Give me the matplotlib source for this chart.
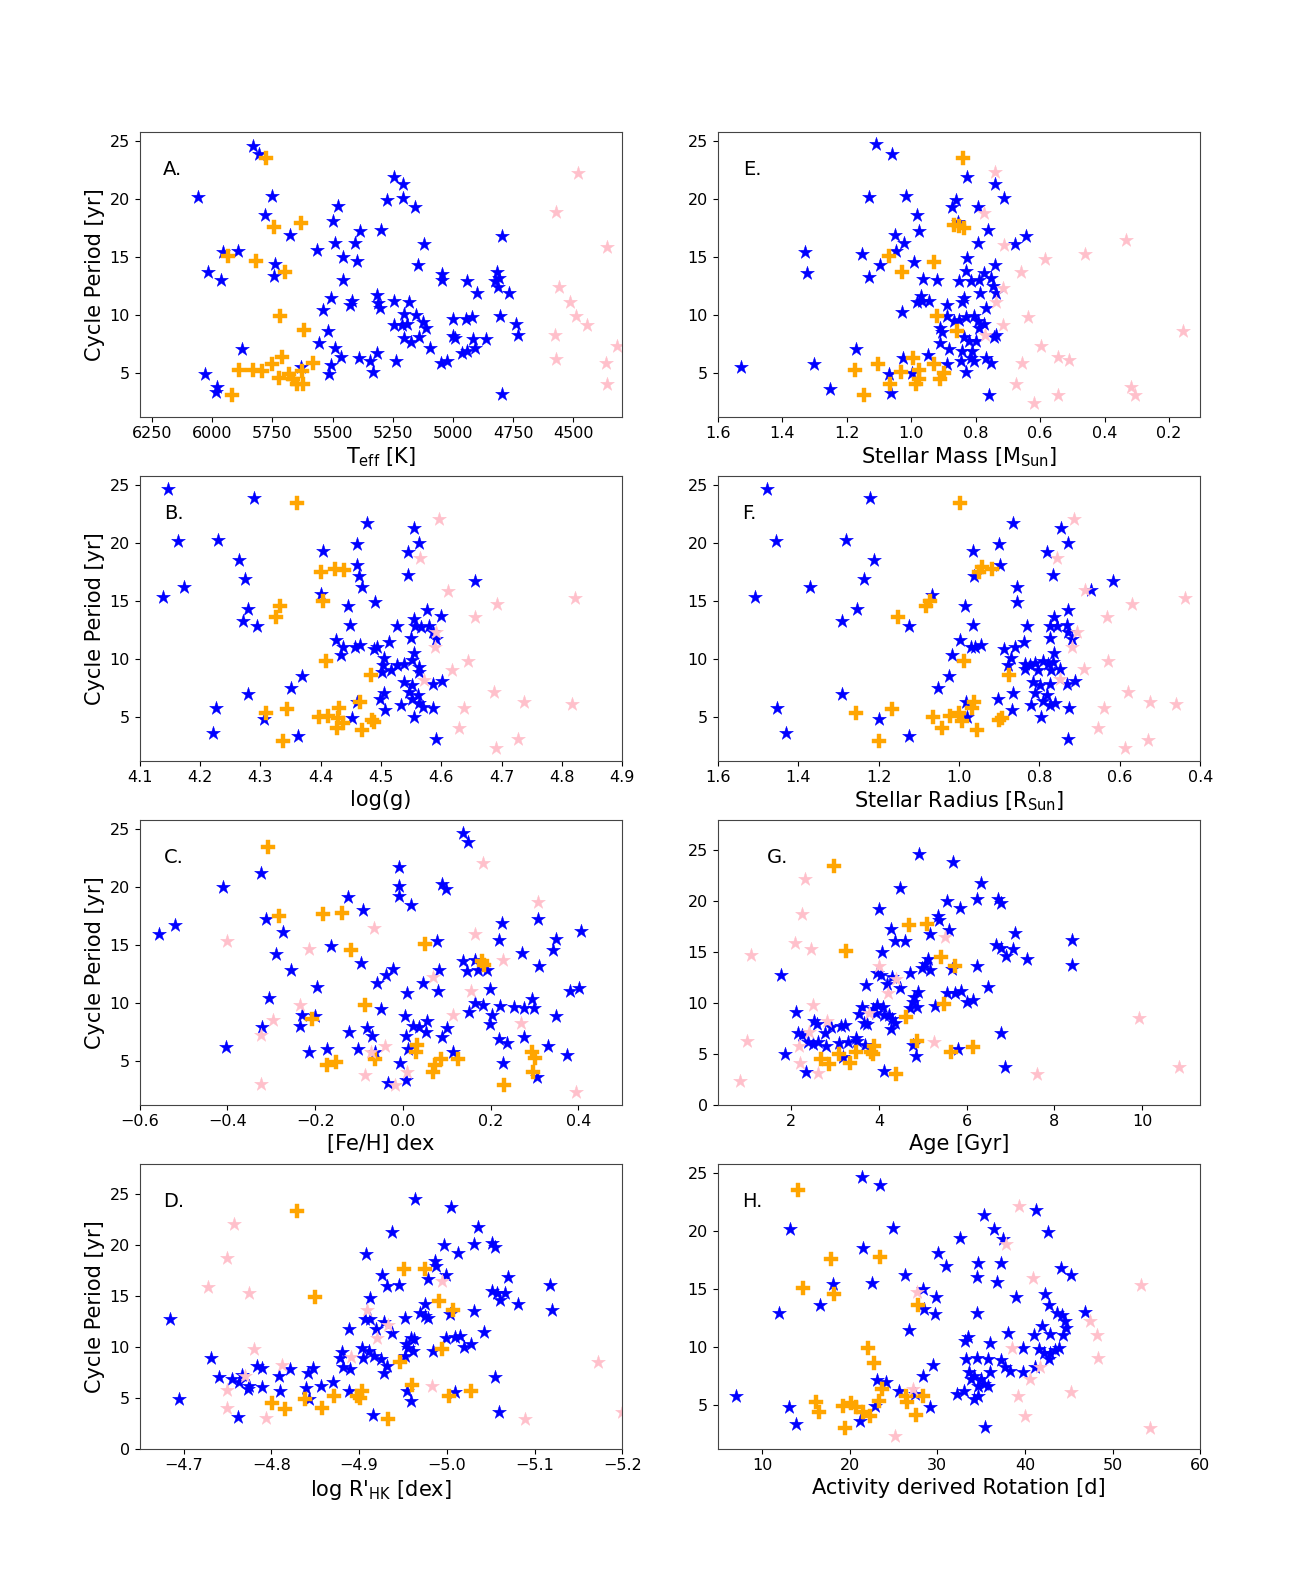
import matplotlib
matplotlib.use("Agg")
import matplotlib.pyplot as plt
import numpy as np

# ---------------- data (x, cycle period [yr]) ----------------
# Panel A: Teff [K]
A_BLUE = [(5829, 24.6), (5805, 23.9), (6060, 20.2), (5754, 20.3), (5780, 18.6), (5677, 16.9), (5954, 15.4), (5895, 15.5), (6018, 13.7), (5962, 13.0),
          (5740, 14.4), (5744, 13.4), (5878, 7.1), (6029, 4.9), (5979, 3.8), (5983, 3.4), (5632, 5.5), (5565, 15.6), (5541, 10.4), (5506, 11.5),
          (5499, 18.1), (5479, 19.4), (5492, 16.2), (5456, 15.0), (5459, 13.0), (5521, 8.6), (5555, 7.6), (5492, 7.2), (5466, 6.4), (5506, 5.7),
          (5515, 4.9), (5409, 16.2), (5400, 14.7), (5386, 17.2), (5421, 11.2), (5426, 10.9), (5389, 6.3), (5344, 6.0), (5333, 5.1), (5316, 6.7),
          (5299, 17.3), (5274, 19.9), (5243, 21.9), (5206, 21.3), (5206, 20.1), (5159, 19.3), (5122, 16.1), (5147, 14.3), (5316, 11.7), (5313, 11.0),
          (5302, 10.6), (5243, 11.2), (5181, 11.1), (5246, 9.1), (5211, 9.1), (5204, 10.1), (5190, 9.2), (5155, 10.0), (5126, 9.4), (5112, 8.9),
          (5204, 8.0), (5176, 7.7), (5140, 8.1), (5094, 7.2), (5235, 6.0), (5046, 13.5), (5046, 13.0), (5000, 9.7), (4999, 8.2), (4990, 8.0),
          (5049, 5.9), (5024, 6.0), (4962, 6.7), (4940, 6.9), (4944, 9.7), (4920, 9.8), (4940, 12.9), (4902, 11.9), (4916, 7.9), (4909, 7.2),
          (4862, 7.9), (4818, 13.7), (4824, 12.9), (4810, 13.2), (4813, 12.4), (4794, 16.8), (4768, 11.9), (4806, 9.9), (4737, 9.2), (4729, 8.3),
          (4796, 3.2)]
A_ORANGE = [(5777, 23.5), (5742, 17.6), (5633, 17.9), (5934, 15.1), (5817, 14.7), (5698, 13.7), (5720, 9.9), (5621, 8.7), (5580, 5.9), (5709, 6.4),
            (5754, 5.8), (5793, 5.2), (5833, 5.3), (5888, 5.3), (5723, 4.6), (5681, 4.9), (5664, 4.5), (5650, 4.1), (5625, 4.1), (5628, 5.2),
            (5920, 3.1)]
A_PINK = [(4480, 22.2), (4572, 18.9), (4358, 15.9), (4558, 12.4), (4515, 11.1), (4487, 9.9), (4441, 9.1), (4574, 8.3), (4572, 6.2), (4316, 7.3),
          (4365, 5.9), (4361, 4.1)]

# Panel E: stellar mass [Msun]
E_BLUE = [(1.109, 24.7), (1.059, 23.9), (1.132, 20.2), (1.016, 20.3), (0.828, 21.9), (0.862, 19.9), (0.872, 19.3), (0.794, 19.3), (0.983, 18.6), (0.977, 17.2),
          (0.855, 18.0), (0.739, 21.3), (0.712, 20.1), (0.760, 17.3), (0.794, 16.2), (0.678, 16.1), (0.644, 16.8), (1.050, 16.9), (1.022, 16.2), (1.046, 15.5),
          (1.151, 15.3), (1.096, 14.3), (1.329, 15.4), (1.324, 13.6), (1.130, 13.3), (0.990, 14.6), (0.962, 13.1), (0.920, 13.0), (0.828, 14.9), (0.830, 13.8),
          (0.851, 12.9), (0.815, 12.9), (0.788, 13.0), (0.773, 13.6), (0.752, 13.2), (0.746, 12.5), (0.741, 14.3), (0.736, 11.9), (0.785, 11.9), (0.837, 11.5),
          (0.843, 11.1), (0.970, 11.6), (0.966, 11.2), (0.983, 11.1), (0.946, 11.2), (1.027, 10.3), (0.888, 10.9), (0.767, 10.6), (0.888, 9.9), (0.867, 9.5),
          (0.851, 9.6), (0.830, 9.8), (0.804, 9.9), (0.794, 9.5), (0.773, 9.2), (0.788, 8.9), (0.909, 8.9), (0.904, 8.5), (0.909, 7.6), (0.883, 7.1),
          (0.837, 8.1), (0.820, 7.8), (0.841, 6.9), (0.799, 7.8), (0.810, 6.9), (0.815, 6.3), (0.804, 6.0), (0.846, 6.0), (0.830, 5.1), (0.743, 8.1),
          (0.736, 8.3), (0.767, 6.3), (0.752, 5.9), (0.888, 5.8), (0.948, 6.6), (1.025, 6.3), (1.070, 4.9), (1.061, 3.3), (0.998, 5.0), (1.172, 7.1),
          (1.300, 5.8), (1.527, 5.5), (1.252, 3.6), (0.757, 3.1)]
E_ORANGE = [(0.838, 23.5), (0.867, 17.8), (0.851, 17.7), (0.837, 17.5), (1.070, 15.1), (0.928, 14.6), (1.029, 13.7), (0.920, 9.9), (0.859, 8.6), (0.993, 6.3),
            (1.174, 5.3), (1.103, 5.8), (1.030, 5.1), (0.977, 5.3), (0.928, 5.8), (0.899, 5.0), (0.977, 4.5), (0.910, 4.5), (1.065, 4.1), (0.986, 4.1),
            (1.147, 3.1)]
E_PINK = [(0.739, 22.3), (0.775, 18.8), (0.712, 16.0), (0.332, 16.5), (0.461, 15.3), (0.584, 14.8), (0.660, 13.7), (0.715, 12.3), (0.736, 11.1), (0.638, 9.8),
          (0.716, 9.1), (0.770, 8.3), (0.156, 8.6), (0.596, 7.3), (0.544, 6.4), (0.510, 6.1), (0.657, 5.9), (0.675, 4.1), (0.319, 3.8), (0.306, 3.1),
          (0.545, 3.1), (0.619, 2.4)]

# Panel B: log(g)
B_BLUE = [(4.147, 24.66), (4.289, 23.89), (4.163, 20.17), (4.229, 20.26), (4.174, 16.17), (4.138, 15.31), (4.264, 18.54), (4.275, 16.89), (4.280, 14.31), (4.271, 13.26),
          (4.295, 12.89), (4.280, 6.97), (4.226, 5.74), (4.222, 3.66), (4.306, 4.83), (4.362, 3.4), (4.351, 7.51), (4.369, 8.54), (4.477, 21.74), (4.404, 19.31),
          (4.461, 19.89), (4.460, 18.11), (4.463, 17.17), (4.468, 16.17), (4.401, 15.6), (4.446, 14.6), (4.449, 12.97), (4.426, 11.6), (4.437, 11.03), (4.433, 10.31),
          (4.457, 11.03), (4.465, 11.17), (4.490, 14.89), (4.555, 21.31), (4.563, 20.03), (4.544, 19.26), (4.545, 17.23), (4.656, 16.74), (4.488, 10.89), (4.494, 11.03),
          (4.513, 11.46), (4.527, 12.89), (4.576, 14.26), (4.555, 13.46), (4.556, 12.89), (4.566, 12.74), (4.580, 12.89), (4.599, 13.69), (4.586, 12.31), (4.550, 11.83),
          (4.592, 11.74), (4.554, 10.54), (4.505, 10.09), (4.504, 9.51), (4.502, 8.89), (4.516, 9.03), (4.527, 9.46), (4.538, 9.6), (4.552, 9.89), (4.563, 9.31),
          (4.563, 8.89), (4.538, 8.03), (4.552, 7.74), (4.586, 7.89), (4.601, 8.11), (4.505, 7.09), (4.498, 6.6), (4.507, 5.6), (4.533, 6.03), (4.547, 7.17),
          (4.552, 6.6), (4.561, 6.89), (4.563, 6.17), (4.570, 5.89), (4.587, 5.8), (4.555, 5.03), (4.592, 3.11), (4.452, 4.89), (4.460, 6.31)]
B_ORANGE = [(4.360, 23.46), (4.401, 17.51), (4.423, 17.74), (4.439, 17.66), (4.332, 14.6), (4.326, 13.6), (4.404, 15.03), (4.408, 9.83), (4.483, 8.6), (4.466, 6.31),
            (4.309, 5.31), (4.345, 5.69), (4.397, 5.03), (4.412, 5.11), (4.431, 5.8), (4.429, 4.89), (4.437, 4.46), (4.427, 4.03), (4.468, 3.89), (4.485, 4.74),
            (4.488, 4.54), (4.337, 2.97)]
B_PINK = [(4.596, 22.11), (4.565, 18.74), (4.611, 15.89), (4.692, 14.74), (4.655, 13.6), (4.821, 15.29), (4.592, 12.31), (4.589, 11.03), (4.645, 9.83), (4.617, 9.09),
          (4.572, 8.17), (4.687, 7.17), (4.737, 6.31), (4.816, 6.09), (4.638, 5.8), (4.629, 4.09), (4.727, 3.09), (4.690, 2.31)]

# Panel F: stellar radius [Rsun]
F_BLUE = [(1.477, 24.66), (1.222, 23.89), (1.454, 20.17), (1.280, 20.26), (1.211, 18.54), (1.236, 16.89), (1.370, 16.17), (1.508, 15.31), (1.253, 14.31), (1.291, 13.26),
          (1.125, 12.89), (1.066, 15.51), (0.866, 21.74), (0.900, 19.89), (0.966, 19.31), (0.897, 18.09), (0.963, 17.17), (0.856, 16.17), (0.856, 14.94), (0.984, 14.6),
          (0.965, 12.97), (0.997, 11.6), (0.971, 11.03), (0.959, 11.03), (0.946, 11.17), (1.018, 10.31), (1.024, 8.54), (1.051, 7.51), (1.291, 6.97), (1.452, 5.74),
          (1.431, 3.66), (1.198, 4.83), (1.125, 3.37), (0.982, 6.31), (0.980, 5.03), (0.746, 21.31), (0.728, 20.03), (0.782, 19.26), (0.766, 17.23), (0.618, 16.74),
          (0.671, 15.97), (0.830, 12.89), (0.729, 14.26), (0.763, 13.6), (0.774, 12.89), (0.757, 12.89), (0.732, 12.94), (0.728, 12.31), (0.774, 11.8), (0.719, 11.74),
          (0.839, 11.46), (0.860, 11.03), (0.887, 10.89), (0.871, 10.09), (0.763, 10.54), (0.879, 9.46), (0.837, 9.6), (0.824, 9.51), (0.812, 9.69), (0.791, 9.8),
          (0.778, 9.6), (0.766, 9.74), (0.837, 9.17), (0.803, 9.03), (0.770, 9.03), (0.749, 9.11), (0.817, 8.03), (0.799, 7.8), (0.774, 7.89), (0.732, 7.89),
          (0.711, 8.09), (0.812, 7.09), (0.782, 6.94), (0.790, 6.37), (0.774, 6.06), (0.761, 6.2), (0.866, 7.11), (0.904, 6.6), (0.820, 6.03), (0.868, 5.6),
          (0.795, 4.97), (0.726, 5.74), (0.728, 3.11)]
F_ORANGE = [(0.997, 23.46), (0.950, 17.51), (0.944, 17.89), (0.917, 17.74), (1.072, 15.03), (1.083, 14.6), (1.152, 13.6), (0.988, 9.83), (0.875, 8.6), (0.963, 6.26),
            (0.967, 5.8), (1.257, 5.31), (1.167, 5.66), (1.064, 5.03), (1.022, 5.11), (1.001, 5.31), (0.992, 4.66), (0.900, 4.74), (0.892, 4.89), (1.043, 4.03),
            (0.956, 3.89), (1.198, 2.97)]
F_PINK = [(0.713, 22.11), (0.757, 18.74), (0.687, 15.94), (0.570, 14.74), (0.633, 13.6), (0.438, 15.26), (0.707, 12.31), (0.718, 11.03), (0.629, 9.83), (0.690, 9.11),
          (0.749, 8.26), (0.581, 7.17), (0.524, 6.26), (0.461, 6.11), (0.640, 5.8), (0.655, 4.09), (0.530, 3.03), (0.587, 2.31)]

# Panel C: [Fe/H]
C_BLUE = [(0.137, 24.63), (0.149, 23.86), (-0.323, 21.24), (-0.410, 19.96), (-0.556, 15.94), (-0.520, 16.74), (-0.312, 17.22), (-0.273, 16.08), (-0.290, 14.26), (-0.254, 12.89),
          (-0.306, 10.41), (-0.321, 7.91), (-0.404, 6.2), (-0.196, 11.38), (-0.229, 8.96), (-0.235, 8.05), (-0.200, 8.85), (-0.213, 5.77), (-0.173, 6.05), (-0.125, 19.16),
          (-0.092, 18.02), (-0.163, 14.89), (-0.096, 13.46), (-0.123, 7.54), (-0.102, 6.05), (-0.082, 7.82), (-0.071, 7.14), (-0.063, 5.77), (-0.050, 9.53), (-0.059, 11.75),
          (-0.038, 12.38), (-0.022, 12.95), (-0.009, 21.72), (-0.009, 20.07), (-0.009, 19.22), (0.018, 18.45), (-0.006, 4.86), (-0.035, 3.15), (0.006, 3.35), (0.004, 8.9),
          (0.006, 7.14), (0.010, 10.84), (0.012, 6.05), (0.022, 8.05), (0.037, 7.91), (0.053, 7.48), (0.055, 8.48), (0.045, 11.75), (0.077, 15.31), (0.080, 11.04),
          (0.083, 12.89), (0.089, 20.24), (0.099, 19.87), (0.089, 7.11), (0.101, 7.82), (0.114, 5.77), (0.137, 13.6), (0.145, 12.75), (0.164, 13.75), (0.170, 12.83),
          (0.191, 12.89), (0.150, 9.27), (0.164, 10.04), (0.183, 9.81), (0.199, 11.18), (0.203, 8.96), (0.199, 8.19), (0.220, 15.4), (0.226, 16.88), (0.222, 9.76),
          (0.218, 6.91), (0.237, 6.57), (0.228, 4.86), (0.271, 14.32), (0.253, 9.67), (0.276, 9.61), (0.276, 7.05), (0.294, 10.33), (0.298, 9.61), (0.307, 17.22),
          (0.311, 13.23), (0.305, 3.63), (0.330, 6.28), (0.341, 14.54), (0.348, 15.51), (0.349, 8.9), (0.375, 5.48), (0.380, 11.04), (0.402, 11.32), (0.407, 16.17)]
C_ORANGE = [(-0.308, 23.43), (-0.283, 17.51), (-0.182, 17.68), (-0.139, 17.79), (-0.119, 14.54), (0.051, 15.09), (0.180, 13.6), (0.184, 13.32), (-0.086, 9.84), (-0.207, 8.62),
            (0.031, 6.4), (0.029, 5.77), (-0.063, 5.2), (-0.152, 4.91), (-0.173, 4.63), (0.087, 5.14), (0.072, 4.69), (0.068, 4.06), (0.126, 5.14), (0.295, 5.77),
            (0.302, 5.26), (0.297, 4.06), (0.230, 2.98)]
C_PINK = [(0.183, 22.09), (0.308, 18.73), (-0.067, 16.51), (-0.400, 15.31), (-0.213, 14.66), (0.164, 15.94), (0.227, 13.69), (0.068, 12.27), (0.155, 11.04), (-0.234, 9.81),
          (0.114, 8.96), (-0.296, 8.53), (-0.323, 7.25), (0.268, 8.25), (-0.041, 6.34), (-0.072, 5.77), (-0.086, 3.83), (0.010, 4.06), (-0.017, 2.98), (-0.323, 3.06),
          (0.395, 2.35)]

# Panel G: age [Gyr]
G_BLUE = [(4.919, 24.64), (5.691, 23.89), (4.471, 21.28), (6.324, 21.77), (4.008, 19.26), (5.552, 20.01), (5.846, 19.32), (6.247, 20.17), (6.710, 20.24), (6.788, 19.84),
          (5.336, 18.51), (5.359, 18.11), (4.278, 17.23), (5.591, 17.2), (5.166, 16.81), (4.355, 16.06), (4.587, 16.12), (7.097, 16.91), (8.394, 16.22), (6.672, 15.67),
          (6.788, 15.4), (7.058, 15.34), (6.903, 14.62), (7.367, 14.36), (8.409, 13.71), (6.232, 13.64), (4.069, 15.01), (5.112, 14.36), (5.050, 13.87), (4.973, 13.45),
          (5.166, 13.22), (5.668, 13.32), (4.703, 12.89), (3.954, 12.89), (4.046, 12.73), (4.301, 12.57), (4.178, 11.81), (4.471, 11.42), (3.714, 11.75), (1.768, 12.73),
          (6.479, 11.59), (5.552, 11.0), (5.861, 11.16), (5.745, 10.93), (6.154, 10.28), (5.999, 10.05), (5.282, 9.69), (4.896, 11.1), (4.796, 10.61), (4.780, 10.12),
          (4.703, 9.47), (4.857, 9.56), (3.946, 9.79), (4.085, 9.63), (3.869, 9.4), (3.622, 9.63), (3.544, 8.88), (3.931, 8.98), (4.124, 8.81), (4.239, 8.81),
          (4.301, 8.42), (4.355, 8.0), (4.278, 7.44), (3.660, 8.0), (3.737, 7.9), (2.100, 9.07), (2.525, 8.22), (2.579, 7.9), (2.911, 7.67), (2.757, 7.02),
          (2.154, 7.02), (2.232, 6.85), (3.143, 7.77), (3.220, 7.83), (2.386, 6.2), (2.502, 5.94), (2.602, 6.14), (2.788, 5.81), (3.097, 6.04), (3.297, 6.2),
          (3.467, 6.59), (3.506, 6.27), (3.683, 5.87), (1.846, 4.96), (2.324, 3.2), (3.181, 4.73), (4.108, 3.36), (4.780, 5.87), (4.834, 4.83), (5.800, 5.48),
          (6.788, 7.02), (6.865, 3.66)]
G_ORANGE = [(2.981, 23.43), (3.236, 15.08), (4.680, 17.69), (5.104, 17.79), (5.421, 14.52), (5.745, 13.61), (5.475, 9.89), (4.610, 8.58), (4.857, 6.3), (3.892, 5.81),
            (3.815, 5.22), (3.467, 5.22), (3.081, 4.96), (2.680, 4.5), (2.849, 3.98), (3.328, 4.08), (3.853, 4.96), (5.653, 5.22), (6.154, 5.71), (4.394, 3.0)]
G_PINK = [(2.309, 22.19), (2.247, 18.77), (2.077, 15.93), (2.448, 15.27), (1.073, 14.69), (4.008, 13.61), (4.394, 12.34), (4.201, 11.0), (2.502, 9.79), (3.776, 9.04),
          (9.938, 8.55), (2.811, 8.22), (2.409, 7.18), (0.996, 6.3), (5.259, 6.2), (2.178, 5.81), (2.193, 4.08), (2.618, 3.1), (5.514, 16.48), (7.598, 3.0),
          (10.84, 3.75), (0.826, 2.35)]

# Panel D: log R'HK [dex]
D_BLUE = [(-4.684, 12.78), (-4.695, 4.89), (-4.731, 8.9), (-4.740, 7.01), (-4.755, 6.84), (-4.767, 7.24), (-4.763, 6.52), (-4.774, 6.13), (-4.773, 5.87), (-4.762, 3.1),
          (-4.784, 8.08), (-4.789, 7.89), (-4.789, 6.03), (-4.809, 7.17), (-4.810, 5.7), (-4.821, 7.82), (-4.842, 7.43), (-4.848, 7.89), (-4.840, 5.93), (-4.843, 4.89),
          (-4.857, 6.19), (-4.870, 6.58), (-4.880, 9.52), (-4.878, 8.96), (-4.882, 7.99), (-4.890, 7.82), (-4.888, 5.64), (-4.889, 11.8), (-4.903, 9.94), (-4.911, 9.62),
          (-4.905, 8.96), (-4.917, 9.13), (-4.925, 8.8), (-4.932, 8.15), (-4.928, 7.4), (-4.907, 12.78), (-4.912, 12.78), (-4.919, 11.8), (-4.928, 12.45), (-4.937, 11.34),
          (-4.913, 14.83), (-4.908, 19.17), (-4.926, 17.11), (-4.932, 15.97), (-4.946, 16.13), (-4.938, 21.25), (-4.964, 24.54), (-4.952, 12.88), (-4.959, 10.92), (-4.963, 10.76),
          (-4.954, 10.27), (-4.956, 9.94), (-4.961, 9.62), (-4.952, 9.13), (-4.955, 5.7), (-4.959, 4.73), (-4.975, 14.18), (-4.969, 13.36), (-4.975, 13.04), (-4.979, 12.87),
          (-4.978, 16.69), (-4.986, 18.42), (-4.988, 17.93), (-4.999, 17.11), (-4.984, 9.62), (-4.997, 19.98), (-5.005, 23.79), (-5.004, 13.2), (-5.013, 19.23), (-4.999, 10.92),
          (-5.009, 11.02), (-5.015, 11.08), (-5.020, 10.04), (-5.027, 10.27), (-5.009, 5.54), (-5.031, 13.53), (-5.031, 20.14), (-5.035, 21.74), (-5.042, 11.47), (-5.052, 20.21),
          (-5.055, 19.82), (-5.051, 15.48), (-5.057, 15.32), (-5.061, 14.6), (-5.066, 15.32), (-5.070, 16.88), (-5.081, 14.24), (-5.055, 7.01), (-5.059, 3.65), (-5.118, 16.13),
          (-5.120, 13.59), (-4.916, 3.32)]
D_ORANGE = [(-4.829, 23.4), (-4.850, 14.93), (-4.951, 17.67), (-4.975, 17.67), (-4.991, 14.5), (-5.007, 13.59), (-4.995, 9.78), (-4.947, 8.54), (-4.960, 6.26), (-5.002, 5.22),
            (-5.027, 5.64), (-4.903, 5.7), (-4.898, 5.15), (-4.901, 4.95), (-4.871, 5.22), (-4.838, 4.89), (-4.801, 4.47), (-4.816, 3.91), (-4.858, 4.01), (-4.933, 2.93)]
D_PINK = [(-4.757, 22.07), (-4.750, 18.74), (-4.728, 15.87), (-4.774, 15.32), (-4.995, 16.46), (-4.909, 13.59), (-4.933, 12.16), (-4.921, 10.92), (-4.780, 9.78), (-4.891, 9.03),
          (-4.812, 8.21), (-4.770, 7.17), (-5.172, 8.47), (-4.749, 5.77), (-4.983, 6.13), (-4.749, 4.01), (-4.794, 3.0), (-5.089, 2.93), (-5.200, 3.6)]

# Panel H: activity derived rotation [d]
H_BLUE = [(21.39, 24.66), (23.47, 23.94), (13.17, 20.19), (24.94, 20.27), (21.54, 18.55), (11.89, 12.97), (16.64, 13.6), (18.11, 15.4), (22.51, 15.49), (26.29, 16.17),
          (26.80, 11.45), (28.34, 14.97), (28.49, 13.25), (29.85, 14.34), (29.77, 12.88), (30.04, 18.12), (31.04, 16.98), (32.59, 19.41), (35.37, 21.42), (36.45, 20.13),
          (37.49, 19.33), (34.59, 17.26), (34.48, 16.06), (37.22, 17.21), (36.80, 15.6), (34.52, 12.97), (38.96, 14.34), (41.27, 21.85), (42.59, 19.9), (44.13, 16.83),
          (45.21, 16.2), (42.24, 14.6), (42.78, 13.6), (43.67, 12.97), (44.17, 12.74), (44.56, 12.25), (44.63, 11.68), (44.36, 11.02), (42.90, 11.1), (41.93, 11.82),
          (41.08, 11.02), (46.83, 13.05), (39.81, 9.9), (38.07, 11.19), (41.62, 9.81), (42.12, 9.53), (42.90, 9.53), (43.47, 9.76), (43.86, 9.96), (42.78, 8.95),
          (41.16, 8.24), (39.81, 7.89), (38.26, 7.95), (37.68, 8.24), (37.22, 8.87), (35.83, 8.95), (35.95, 7.81), (34.52, 9.04), (33.24, 8.95), (33.17, 10.53),
          (33.51, 10.9), (35.95, 10.39), (33.63, 7.81), (33.82, 7.23), (34.13, 7.52), (34.59, 6.66), (34.98, 7.23), (35.29, 6.81), (35.75, 6.66), (33.05, 6.23),
          (32.20, 5.95), (34.13, 5.52), (34.59, 5.8), (35.44, 3.14), (29.50, 8.47), (28.34, 7.52), (24.17, 7.03), (23.09, 7.15), (25.68, 6.23), (27.45, 5.95),
          (29.19, 4.8), (22.93, 4.94), (21.20, 3.65), (6.99, 5.8), (13.05, 4.8), (13.86, 3.37)]
H_ORANGE = [(14.13, 23.57), (23.40, 17.78), (17.88, 17.61), (14.63, 15.11), (18.26, 14.6), (27.84, 13.6), (22.12, 9.9), (22.82, 8.61), (23.67, 6.38), (23.32, 5.37),
            (16.18, 5.23), (16.45, 4.43), (19.23, 4.94), (20.12, 5.14), (20.69, 4.8), (21.47, 4.37), (22.36, 4.03), (19.42, 2.99), (26.41, 5.8), (26.56, 5.23),
            (28.34, 5.74), (27.53, 4.14)]
H_PINK = [(39.34, 22.19), (37.88, 18.84), (40.89, 15.97), (53.24, 15.32), (27.64, 14.74), (47.45, 12.25), (48.22, 11.02), (38.46, 9.9), (48.30, 9.04), (41.66, 8.24),
          (40.58, 7.23), (27.26, 6.38), (39.15, 5.8), (45.21, 6.15), (40.0, 4.08), (54.21, 3.02), (25.14, 2.31)]

# tick labels / axis labels
A_XTICKS = [6250, 6000, 5750, 5500, 5250, 5000, 4750, 4500]
E_XTICKS = [1.6, 1.4, 1.2, 1.0, 0.8, 0.6, 0.4, 0.2]
B_XTICKS = [4.1, 4.2, 4.3, 4.4, 4.5, 4.6, 4.7, 4.8, 4.9]
F_XTICKS = [1.6, 1.4, 1.2, 1.0, 0.8, 0.6, 0.4]
C_XTICKS = [-0.6, -0.4, -0.2, 0.0, 0.2, 0.4]
G_XTICKS = [2, 4, 6, 8, 10]
D_XTICKS = [-4.7, -4.8, -4.9, -5.0, -5.1, -5.2]
H_XTICKS = [10, 20, 30, 40, 50, 60]
Y_TICKS_A = [5, 10, 15, 20, 25]
Y_TICKS_0 = [0, 5, 10, 15, 20, 25]

PANELS = [
    # letter, blue, orange, pink, xlabel, xlim, ylim, xticks, yticks, col, row, letter_x
    ("A.", A_BLUE, A_ORANGE, A_PINK, r"T$_{\rm eff}$ [K]", (6302, 4296), (1.24, 25.8), A_XTICKS, Y_TICKS_A, 0, 0, 0.068),
    ("B.", B_BLUE, B_ORANGE, B_PINK, "log(g)", (4.1, 4.9), (1.24, 25.8), B_XTICKS, Y_TICKS_A, 0, 1, 0.070),
    ("C.", C_BLUE, C_ORANGE, C_PINK, "[Fe/H] dex", (-0.6, 0.5), (1.24, 25.8), C_XTICKS, Y_TICKS_A, 0, 2, 0.070),
    ("D.", D_BLUE, D_ORANGE, D_PINK, r"log R'$_{\rm HK}$ [dex]", (-4.65, -5.2), (0, 28), D_XTICKS, Y_TICKS_0, 0, 3, 0.071),
    ("E.", E_BLUE, E_ORANGE, E_PINK, r"Stellar Mass [M$_{\rm Sun}$]", (1.6, 0.103), (1.24, 25.8), E_XTICKS, Y_TICKS_A, 1, 0, 0.072),
    ("F.", F_BLUE, F_ORANGE, F_PINK, r"Stellar Radius [R$_{\rm Sun}$]", (1.6, 0.4), (1.24, 25.8), F_XTICKS, Y_TICKS_A, 1, 1, 0.066),
    ("G.", G_BLUE, G_ORANGE, G_PINK, "Age [Gyr]", (0.32, 11.33), (0, 28), G_XTICKS, Y_TICKS_0, 1, 2, 0.125),
    ("H.", H_BLUE, H_ORANGE, H_PINK, "Activity derived Rotation [d]", (4.94, 60), (1.24, 25.8), H_XTICKS, Y_TICKS_A, 1, 3, 0.072),
]

W, H = 1316, 1584
fig = plt.figure(figsize=(W / 100, H / 100), dpi=100)

col_left = [139.7, 717.7]
ax_w = 482.6
ax_h = 285.0
row_top = [131.7, 475.7, 819.7, 1163.7]

def fmt_tick(v):
    s = ("%g" % v)
    if isinstance(v, float) and "." not in s:
        s = s + ".0"
    return s.replace("-", "\u2212")

for (letter, blue, orange, pink, xlabel, xlim, ylim, xticks, yticks, col, row, lx) in PANELS:
    left = col_left[col] / W
    bottom = 1 - (row_top[row] + ax_h) / H
    ax = fig.add_axes([left, bottom, ax_w / W, ax_h / H])
    for pts, color, marker in ((blue, "blue", "*"), (orange, "orange", "P"), (pink, "pink", "*")):
        arr = np.array(pts)
        ax.scatter(arr[:, 0], arr[:, 1], s=110, marker=marker, color=color, linewidths=0.3, edgecolors=color)
    ax.set_xlim(*xlim)
    ax.set_ylim(*ylim)
    ax.set_xticks(xticks)
    ax.set_xticklabels([fmt_tick(v) for v in xticks])
    ax.set_yticks(yticks)
    ax.tick_params(labelsize=11.5)
    ax.set_xlabel(xlabel, fontsize=15, labelpad=3)
    if col == 0:
        ax.set_ylabel("Cycle Period [yr]", fontsize=15, labelpad=3)
    ax.text(lx, 0.866, letter, transform=ax.transAxes, fontsize=14, ha="center", va="center")
    for sp in ax.spines.values():
        sp.set_color("#444444")

fig.savefig("out.png", dpi=100)
